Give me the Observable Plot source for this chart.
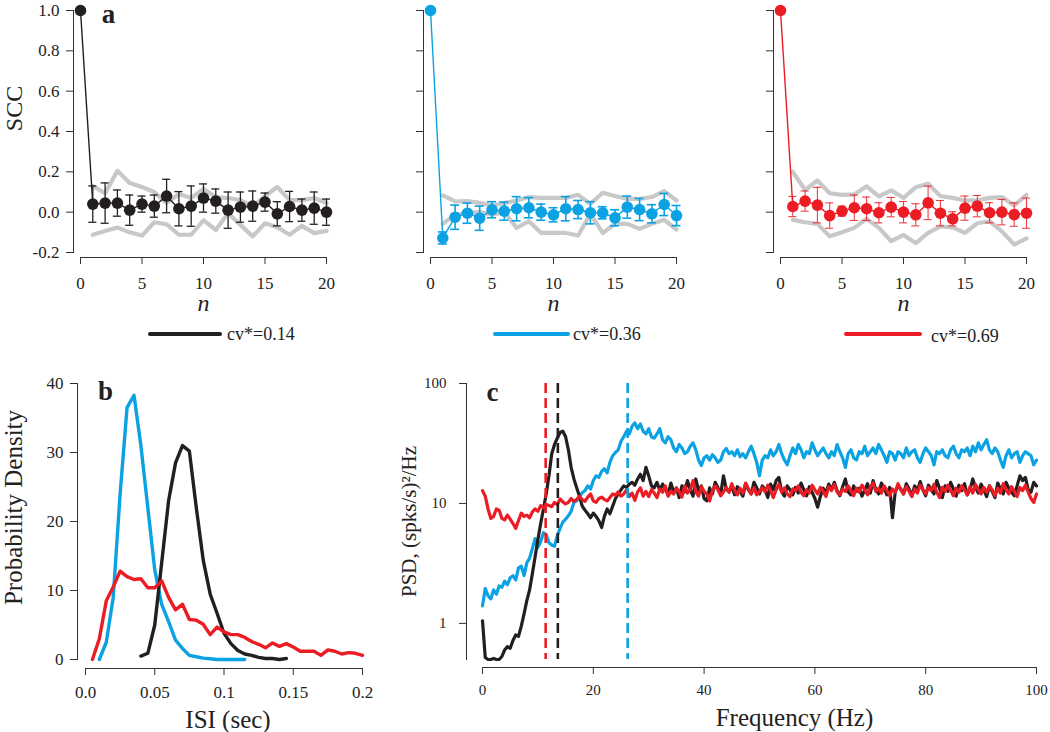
<!DOCTYPE html>
<html><head><meta charset="utf-8">
<script src="https://cdn.jsdelivr.net/npm/d3@7"></script>
<script src="https://cdn.jsdelivr.net/npm/@observablehq/plot@0.6"></script>
<style>
body{margin:0;background:#fff;}
#fig{position:relative;width:1050px;height:732px;overflow:hidden;font-family:"Liberation Serif","Times New Roman",serif;color:#222;}
.panel{position:absolute;}
.legend{position:absolute;height:20px;display:flex;align-items:center;font-family:"Liberation Serif","Times New Roman",serif;font-size:18px;white-space:nowrap;}
.legend .sw{display:inline-block;height:4px;border-radius:2px;}
.legend .tx{display:inline-block;}
</style></head><body><div id="fig"></div>
<script>
// ---------- colours ----------
const cBlack = "#231f20", cBlue = "#0aa2e2", cRed = "#ec1c24", cGrey = "#c8c8c8";

// ---------- panel a : serial correlation coefficients ----------
const lags = [0,1,2,3,4,5,6,7,8,9,10,11,12,13,14,15,16,17,18,19,20];
const lagsNZ = [1,2,3,4,5,6,7,8,9,10,11,12,13,14,15,16,17,18,19,20];
const xTicksA = [0,5,10,15,20];
const yTicksA = [-0.2,0,0.2,0.4,0.6,0.8,1.0];
const yTickLabelsA = ["-0.2","0.0","0.2","0.4","0.6","0.8","1.0"];

const sccBlack = [1.0,0.04,0.045,0.045,0.01,0.04,0.03,0.08,0.017,0.03,0.07,0.055,0.01,0.025,0.03,0.05,-0.008,0.028,0.01,0.02,0.0];
const errBlack = [0.09,0.1,0.065,0.075,0.04,0.055,0.083,0.085,0.1,0.07,0.06,0.09,0.075,0.075,0.045,0.06,0.075,0.055,0.08,0.065];
const upperBlack = [0.13,0.094,0.205,0.145,0.125,0.1,0.045,0.09,0.07,0.115,0.075,0.07,0.06,0.028,0.08,0.125,0.06,0.06,0.07,0.045];
const lowerBlack = [-0.112,-0.093,-0.076,-0.1,-0.116,-0.05,-0.06,-0.112,-0.112,-0.04,-0.088,-0.005,-0.063,-0.12,-0.055,-0.075,-0.112,-0.068,-0.104,-0.093];

const sccBlue = [1.0,-0.128,-0.025,-0.005,-0.03,0.012,0.005,0.017,0.022,0.0,-0.013,0.017,0.013,-0.003,-0.003,-0.028,0.025,0.013,-0.008,0.038,-0.017];
const errBlue = [0.03,0.06,0.05,0.06,0.04,0.045,0.06,0.05,0.04,0.035,0.06,0.045,0.055,0.03,0.04,0.055,0.055,0.045,0.055,0.05];
const upperBlue = [0.083,0.053,0.055,0.046,0.033,0.045,0.058,0.075,0.071,0.071,0.071,0.086,0.041,0.096,0.08,0.066,0.066,0.075,0.104,0.058];
const lowerBlue = [-0.058,-0.013,-0.005,0,-0.012,0,-0.078,-0.045,-0.103,-0.103,-0.103,-0.116,-0.008,-0.103,-0.058,-0.058,-0.083,-0.058,-0.038,-0.086];

const sccRed = [1.0,0.028,0.055,0.035,-0.017,0.005,0.022,0.017,-0.003,0.025,0,-0.013,0.046,-0.005,-0.033,0.02,0.03,-0.003,0,-0.012,-0.005];
const errRed = [0.05,0.05,0.088,0.063,0.025,0.063,0.058,0.05,0.048,0.053,0.055,0.083,0.063,0.035,0.06,0.053,0.05,0.063,0.058,0.075];
const upperRed = [0.2,0.11,0.157,0.094,0.086,0.088,0.128,0.078,0.108,0.071,0.124,0.141,0.08,0.071,0.058,0.058,0.071,0.075,0.033,0.086];
const lowerRed = [-0.038,-0.05,-0.058,-0.12,-0.1,-0.078,-0.033,-0.078,-0.144,-0.113,-0.153,-0.103,-0.071,-0.075,-0.103,-0.055,-0.045,-0.095,-0.161,-0.13];

const legendLabels = ["cv*=0.14","cv*=0.36","cv*=0.69"];

// ---------- panel b : ISI densities ----------
const isiBlueX = [0.010,0.015,0.020,0.025,0.030,0.035,0.040,0.045,0.050,0.055,0.060,0.065,0.070,0.075,0.080,0.085,0.090,0.095,0.100,0.105,0.110,0.115];
const isiBlueY = [0,2.5,9,24,36.5,38.3,31,22,13,8,5.5,2.8,1.6,0.6,0.4,0.2,0.1,0,0,0,0,0];
const isiBlackX = [0.040,0.045,0.050,0.055,0.060,0.065,0.070,0.075,0.080,0.085,0.090,0.095,0.100,0.105,0.110,0.115,0.120,0.125,0.130,0.135,0.140,0.145];
const isiBlackY = [0.5,0.9,5,14,23,28.5,31,30.2,22,14.4,9.5,6.7,3.8,2.3,1.3,0.8,0.6,0.3,0.15,0.15,0,0.15];
const isiRedX = [0.005,0.010,0.015,0.020,0.025,0.030,0.035,0.040,0.045,0.050,0.055,0.060,0.065,0.070,0.075,0.080,0.085,0.090,0.095,0.100,0.105,0.110,0.115,0.120,0.125,0.130,0.135,0.140,0.145,0.150,0.155,0.160,0.165,0.170,0.175,0.180,0.185,0.190,0.195,0.200];
const isiRedY = [0,3,8.5,10.5,12.8,12,11.6,11.7,10.4,10.4,11.4,9,7.2,8,5.8,5.7,5.1,3.6,4.7,4,3.6,3.6,3.2,2.6,2.2,1.7,2.4,1.9,2.3,1.8,1.2,1.2,1.2,0.6,1.4,1.2,0.8,1,0.9,0.6];
const xTicksB = [0,0.05,0.1,0.15,0.2];
const xTickLabelsB = ["0.0","0.05","0.1","0.15","0.2"];
const yTicksB = [0,10,20,30,40];

// ---------- panel c : power spectral densities (0 .. 100 Hz, 0.5 Hz bins) ----------
const psdStep = 0.5;
const psdBlack = [
 1.05,0.52,0.5,0.5,0.51,0.5,0.5,0.53,0.6,0.64,
 0.62,0.72,0.8,0.78,0.95,1.2,1.55,1.9,2.6,3.6,
 5,6.8,9,12,17,26,31,35,39,40,
 36,28,20,16,13.5,11.5,9.5,8.8,8.2,7.6,
 8.3,7.8,7.2,6.3,7.8,9,8.2,9.5,11,12,
 13,14,13.6,14.5,15,14.2,16,17.5,15.5,20,
 17,14,13.5,15,12.8,14.5,13.2,11.8,14.8,12.5,
 13.5,11.2,14,12.5,15.5,13,11.5,16,12.8,14,
 11,10.5,13.5,12,15,13.5,12,17,13.2,12.5,
 14,11.8,13.8,12.6,11.5,14.5,13,12,15,13.5,
 12,14,13,11.2,14.5,13,15.5,16.5,12.5,11.5,
 14,13,11.8,13.6,12.2,14.8,13,11.6,13.8,12.4,
 11,9.3,11.5,13.4,12.2,14.5,13,15,12.8,11.6,
 13.8,16,12.5,11.8,14,12.6,13.4,11.5,13,14.6,
 12.2,15.5,13,12,14.8,13.4,11.8,13.6,7.6,12.5,
 14,13.2,12,14.6,13.2,11.6,14,12.8,15.2,13,
 11.6,14.2,13,12,15.5,13.4,11.2,14,12.6,15,
 13.2,11.5,14.2,12.8,14.6,11.8,13,16,13.6,12.2,
 14.5,13,11.4,14,12.6,11.2,14.8,13.2,12,15,
 13.4,12.4,11.6,14,17,15.5,16.5,13,12.4,15,
 14];
const psdBlue = [
 1.4,1.95,1.7,1.6,1.9,1.75,2.05,2.0,2.25,2.1,
 2.4,2.5,2.3,2.9,3.0,2.5,3.2,3.5,4.2,5.1,
 4.3,4.8,5.7,5.5,4.7,4.5,4.4,5.4,6.2,7,
 7.4,7.9,8.6,10.2,10.5,11.5,12.3,12.8,14,13.2,
 15.5,17,16.5,18.5,19.5,18,22,25,26.6,28,
 33,36,40,38,44,47,42,46,40,38,
 42,36,35,38,42,34,32,36,34,29,
 27,31,29,26,27,30,32,28,23,20.7,
 24,25,23,25.5,24,22,23,27,28.7,26,
 27,25,28,24.5,26,24,27,30,26,22,
 17,23,25,24,28,25,27,31,26,23,
 21,25,29,26,31,28,24,27,26,32,
 28,25,27,29,26,24,27,25,31,27,
 24,20,26,28,24,23,27,26,30,25,
 27,29,26,31,28,25,22,27,26,23,
 27,26,24,29,25,27,28,24,22,26,
 29,27,25,21,27,26,28,25,24,28,
 30,26,24,28,27,29,25,30,27,32,
 28,31,34,28,26,29,27,23,20,25,
 28,24,26,27,22,25,27,26,25,21,
 23];
const psdRed = [
 12.8,11.5,9,7.5,7.8,9,8.8,7.5,7.3,8,
 7.4,6.8,6.2,7.2,8.3,7.8,8,7.6,8.5,9,
 8.6,9.6,9.2,9.8,9.6,9.4,10.2,9.8,10.9,10.3,
 9.9,10.2,11,10.4,10.8,11.5,10.8,10.4,11.3,12,
 10.5,10.2,11,11.3,10.8,10.5,11.2,12,11.7,12.5,
 11.5,12,13,11.4,12.2,10.6,12.5,13.5,11.5,12.6,
 11.4,13,12.2,11.2,13.2,12.4,14,11.5,12.6,12,
 13.4,12.5,11.3,14,12.2,13,15.5,12.5,11.5,13.8,
 12.6,12,10.5,12.8,14,13,11.6,12.5,13.6,12.4,
 14.6,12.8,11.8,13.4,12.2,14.8,13.2,12,13.5,11.8,
 12.6,13.5,12.5,14.2,12.8,11.2,13,14.5,12.4,13.5,
 12,11.4,13.2,12.8,14,12.4,11.6,13,12.2,14.2,
 13,12,13.6,12.6,11.4,13.8,12.8,14.4,12.5,11.8,
 13.2,12.6,14,12.8,11.6,13.4,12.4,14.2,13,11.8,
 13.6,14.8,12.6,13.4,12.2,14,12.8,11.6,13.2,12.4,
 14.6,13,12,13.8,12.6,11.4,13.2,12.2,14.2,13,
 12,13.6,12.8,14.4,12.4,11.2,13.6,12.6,14.2,12.8,
 11.6,13.4,12.4,14,13,11.8,13.8,12.2,14.4,13,
 12,13.6,12.4,14,13,11.6,13.4,12.2,14.6,13,
 12,13.8,12.6,11.4,13.6,12.8,14.2,12.4,11,10.2,
 12];
const peakFreqs = [11.4, 13.6, 26.2];
const peakColors = [cRed, cBlack, cBlue];
const xTicksC = [0,20,40,60,80,100];
const yTicksC = [1,10,100];

// ---------- helpers ----------
const fig = document.getElementById("fig");
const FONT = '"Liberation Serif","Times New Roman",serif';
function place(node, left, top) {
  node.classList.add("panel");
  node.style.left = left + "px";
  node.style.top = top + "px";
  fig.appendChild(node);
}
function label(str, o) {
  return Plot.text([str], {text: d => d, textAnchor: "middle", lineAnchor: "middle", fontFamily: FONT, ...o});
}

function sccPanel(color, scc, err, upper, lower, opts) {
  const pts = lags.map((n, i) => ({n, v: scc[i]}));
  const bars = lagsNZ.map((n, i) => ({n, lo: scc[i + 1] - err[i], hi: scc[i + 1] + err[i]}));
  const grey = lagsNZ.map((n, i) => ({n, up: upper[i], lo: lower[i]}));
  const labelMap = new Map(yTicksA.map((d, i) => [d, yTickLabelsA[i]]));
  const ew = opts.errWidth, cap = opts.cap;
  const marks = [
    Plot.frame({anchor: "bottom", insetLeft: 7, insetRight: 7, stroke: "#333"}),
    Plot.frame({anchor: "left", insetTop: 5, insetBottom: 5, stroke: "#333"}),
    Plot.axisX({ticks: xTicksA, tickSize: 7, tickPadding: 12, label: null, tickFormat: d => String(d), fontSize: 17, fontFamily: FONT, stroke: "#333"}),
    Plot.axisY({ticks: yTicksA, tickSize: 7, tickPadding: 7, label: null, fontSize: 17, fontFamily: FONT, stroke: "#333",
      tickFormat: opts.yLabels ? (d => labelMap.get(d)) : (() => "")}),
    Plot.lineY(grey, {x: "n", y: "up", stroke: cGrey, strokeWidth: 4.2, strokeLinejoin: "round"}),
    Plot.lineY(grey, {x: "n", y: "lo", stroke: cGrey, strokeWidth: 4.2, strokeLinejoin: "round"}),
    Plot.ruleX(bars, {x: "n", y1: "lo", y2: "hi", stroke: color, strokeWidth: ew, strokeOpacity: opts.errOpacity}),
    Plot.ruleY(bars, {y: "hi", x1: "n", x2: "n", insetLeft: -cap, insetRight: -cap, stroke: color, strokeWidth: ew, strokeOpacity: opts.errOpacity}),
    Plot.ruleY(bars, {y: "lo", x1: "n", x2: "n", insetLeft: -cap, insetRight: -cap, stroke: color, strokeWidth: ew, strokeOpacity: opts.errOpacity}),
    Plot.line(pts, {x: "n", y: "v", stroke: color, strokeWidth: 1.4}),
    Plot.dot(pts, {x: "n", y: "v", r: 5.8, fill: color}),
    label("n", {frameAnchor: "bottom", dy: 46, fontSize: 24, fontStyle: "italic"})
  ];
  if (opts.title) {
    marks.push(label("SCC", {frameAnchor: "left", dx: -59, dy: -23, rotate: -90, fontSize: 24}));
    marks.push(label("a", {frameAnchor: "top-left", dx: 35, dy: 9, fontSize: 27, fontWeight: "bold"}));
  }
  return Plot.plot({
    width: 350, height: 310,
    marginLeft: 73, marginRight: 17, marginTop: 2, marginBottom: 56,
    style: {fontFamily: FONT, fontSize: "17px", color: "#222", background: "transparent", overflow: "visible"},
    x: {domain: [0, 20], insetLeft: 7, insetRight: 7},
    y: {domain: [-0.2, 1], insetTop: 5, insetBottom: 5},
    marks
  });
}

const TOPY = 3;
place(sccPanel(cBlack, sccBlack, errBlack, upperBlack, lowerBlack, {yLabels: true, title: true, errWidth: 1.3, cap: 4, errOpacity: 1}), 0, TOPY);
place(sccPanel(cBlue, sccBlue, errBlue, upperBlue, lowerBlue, {yLabels: false, title: false, errWidth: 1.6, cap: 4.5, errOpacity: 1}), 350, TOPY);
place(sccPanel(cRed, sccRed, errRed, upperRed, lowerRed, {yLabels: false, title: false, errWidth: 1.1, cap: 4, errOpacity: 0.85}), 700, TOPY);

// ---------- legends ----------
const legendColors = [cBlack, cBlue, cRed];
const legendPos = [[148, 74, 5], [493, 77, 3], [844, 78, 9]];
legendLabels.forEach((lab, i) => {
  const d = document.createElement("div");
  d.className = "legend";
  d.style.left = legendPos[i][0] + "px";
  d.style.top = (324 + (i === 2 ? 2 : 0)) + "px";
  const sw = document.createElement("span");
  sw.className = "sw";
  sw.style.width = legendPos[i][1] + "px";
  sw.style.background = legendColors[i];
  sw.style.marginRight = legendPos[i][2] + "px";
  sw.style.marginTop = (i === 2 ? "-4px" : "0");
  const t = document.createElement("span");
  t.className = "tx";
  t.textContent = lab;
  d.appendChild(sw); d.appendChild(t);
  fig.appendChild(d);
});

// ---------- panel b ----------
{
  const series = [
    {x: isiBlueX, y: isiBlueY, c: cBlue},
    {x: isiBlackX, y: isiBlackY, c: cBlack},
    {x: isiRedX, y: isiRedY, c: cRed}
  ];
  const xLab = new Map(xTicksB.map((d, i) => [d, xTickLabelsB[i]]));
  const marks = [
    Plot.frame({anchor: "bottom", insetLeft: 8, insetRight: 8, stroke: "#333"}),
    Plot.frame({anchor: "left", insetTop: 9, insetBottom: 9, stroke: "#333"}),
    Plot.axisX({ticks: xTicksB, tickSize: 7, tickPadding: 10, label: null, tickFormat: d => xLab.get(d), fontSize: 17, fontFamily: FONT, stroke: "#333"}),
    Plot.axisY({ticks: yTicksB, tickSize: 7, tickPadding: 7, label: null, tickFormat: d => String(d), fontSize: 17, fontFamily: FONT, stroke: "#333"}),
    ...series.map(s => Plot.line(s.x.map((x, i) => ({x, y: s.y[i]})), {x: "x", y: "y", stroke: s.c, strokeWidth: 3.4, strokeLinejoin: "round"})),
    label("ISI (sec)", {frameAnchor: "bottom", dx: 4, dy: 51, fontSize: 25}),
    label("Probability Density", {frameAnchor: "left", dx: -64, dy: -14, rotate: -90, fontSize: 25}),
    label("b", {frameAnchor: "top-left", dx: 28, dy: 17, fontSize: 27, fontWeight: "bold"})
  ];
  place(Plot.plot({
    width: 400, height: 372,
    marginLeft: 77, marginRight: 30, marginTop: 14, marginBottom: 64,
    style: {fontFamily: FONT, fontSize: "17px", color: "#222", background: "transparent", overflow: "visible"},
    x: {domain: [0, 0.2], insetLeft: 8, insetRight: 8},
    y: {domain: [0, 40], insetTop: 9, insetBottom: 9},
    marks
  }), 0, 360);
}

// ---------- panel c ----------
{
  const mk = arr => arr.map((v, i) => ({f: i * psdStep, v}));
  const marks = [
    Plot.frame({anchor: "bottom", insetLeft: 16, insetRight: 12, stroke: "#333"}),
    Plot.frame({anchor: "left", insetBottom: 8, stroke: "#333"}),
    Plot.axisX({ticks: xTicksC, tickSize: 7, tickPadding: 10, label: null, tickFormat: d => String(d), fontSize: 15, fontFamily: FONT, stroke: "#333"}),
    Plot.axisY({ticks: yTicksC, tickSize: 7, tickPadding: 13, label: null, tickFormat: d => String(d), fontSize: 15, fontFamily: FONT, stroke: "#333"}),
    Plot.line(mk(psdBlue), {x: "f", y: "v", stroke: cBlue, strokeWidth: 3.2, strokeLinejoin: "round"}),
    Plot.line(mk(psdBlack), {x: "f", y: "v", stroke: cBlack, strokeWidth: 3.2, strokeLinejoin: "round"}),
    Plot.line(mk(psdRed), {x: "f", y: "v", stroke: cRed, strokeWidth: 3.2, strokeLinejoin: "round"}),
    Plot.ruleX(peakFreqs, {x: d => d, stroke: (d, i) => peakColors[i], strokeWidth: 2.6, strokeDasharray: "10,5", insetBottom: 8}),
    label("Frequency (Hz)", {frameAnchor: "bottom", dx: 37, dy: 50, fontSize: 25}),
    label("PSD, (spks/s)²/Hz", {frameAnchor: "left", dx: -57, dy: -4, rotate: -90, fontSize: 21}),
    label("c", {frameAnchor: "top-left", dx: 26, dy: 9, fontSize: 27, fontWeight: "bold"})
  ];
  place(Plot.plot({
    width: 650, height: 372,
    marginLeft: 66, marginRight: 2, marginTop: 23, marginBottom: 65,
    style: {fontFamily: FONT, fontSize: "15px", color: "#222", background: "transparent", overflow: "visible"},
    x: {domain: [0, 100], insetLeft: 16, insetRight: 12},
    y: {type: "log", domain: [0.5, 100], insetBottom: 8},
    color: {type: "identity"},
    marks
  }), 400, 360);
}
</script></body></html>
